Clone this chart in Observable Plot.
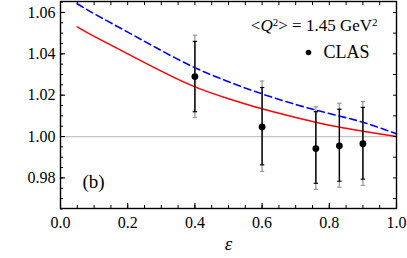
<!DOCTYPE html>
<html>
<head>
<meta charset="utf-8">
<script src="https://cdn.jsdelivr.net/npm/d3@7"></script>
<script src="https://cdn.jsdelivr.net/npm/@observablehq/plot@0.6"></script>
<style>
  html, body { margin: 0; padding: 0; background: #fff; }
  #chart svg { display: block; }
</style>
</head>
<body>
<div id="chart"></div>
<script>
// Theory curves
const curveEps = [0.05, 0.1, 0.2, 0.3, 0.4, 0.5, 0.6, 0.7, 0.8, 0.9, 1.0];
const redValues = [1.0530, 1.0484, 1.0400, 1.0316, 1.0240, 1.0183, 1.0134, 1.0092, 1.0055, 1.0026, 1.0000];
const blueValues = [1.0642, 1.0594, 1.0505, 1.0416, 1.0333, 1.0265, 1.0206, 1.0155, 1.0111, 1.0069, 1.0013];

// CLAS data
const clasEps = [0.40, 0.60, 0.76, 0.83, 0.90];
const clasR = [1.0290, 1.0046, 0.9942, 0.9955, 0.9965];
const statLow = [1.0120, 0.9863, 0.9774, 0.9784, 0.9794];
const statHigh = [1.0460, 1.0237, 1.0120, 1.0132, 1.0141];
const totLow = [1.0092, 0.9831, 0.9744, 0.9755, 0.9764];
const totHigh = [1.0490, 1.0268, 1.0144, 1.0161, 1.0170];

// Axis ticks
const xMajor = [0, 0.2, 0.4, 0.6, 0.8, 1.0];
const xMinor = d3.range(0, 1.0001, 0.05);
const xTop = d3.range(0, 1.0001, 0.05);
const yMajor = [0.98, 1.00, 1.02, 1.04, 1.06];
const yMinor = d3.range(0.965, 1.0651, 0.005);
const yRight = d3.range(0.97, 1.0651, 0.01);

const redData = curveEps.map((e, i) => ({eps: e, v: redValues[i]}));
const blueData = curveEps.map((e, i) => ({eps: e, v: blueValues[i]}));
const clas = clasEps.map((e, i) => ({eps: e, r: clasR[i], sl: statLow[i], sh: statHigh[i], tl: totLow[i], th: totHigh[i]}));

const hbar = {draw(ctx) { ctx.moveTo(-2.2, 0); ctx.lineTo(2.2, 0); }};
const serif = "Liberation Serif, Times New Roman, serif";
const empty = () => "";

const chart = Plot.plot({
  width: 407,
  height: 258,
  marginLeft: 60,
  marginRight: 11,
  marginTop: 1,
  marginBottom: 50,
  style: {fontFamily: serif, fontSize: "16px", color: "#000", background: "#fff"},
  x: {domain: [0, 1]},
  y: {domain: [0.9652, 1.0653]},
  marks: [
    Plot.ruleY([1], {stroke: "#c4c4c4", strokeWidth: 1.2}),
    Plot.line(redData, {x: "eps", y: "v", stroke: "#ff0000", strokeWidth: 1.5, curve: "natural"}),
    Plot.line(blueData, {x: "eps", y: "v", stroke: "#0000ff", strokeWidth: 1.6, strokeDasharray: "7,4", curve: "natural"}),
    // total error bars (gray)
    Plot.ruleX(clas, {x: "eps", y1: "tl", y2: "th", stroke: "#9a9a9a", strokeWidth: 1.3}),
    Plot.dot(clas, {x: "eps", y: "tl", symbol: hbar, stroke: "#9a9a9a", strokeWidth: 1.2}),
    Plot.dot(clas, {x: "eps", y: "th", symbol: hbar, stroke: "#9a9a9a", strokeWidth: 1.2}),
    // statistical error bars (black)
    Plot.ruleX(clas, {x: "eps", y1: "sl", y2: "sh", stroke: "#000", strokeWidth: 1.4}),
    Plot.dot(clas, {x: "eps", y: "sl", symbol: hbar, stroke: "#000", strokeWidth: 1.2}),
    Plot.dot(clas, {x: "eps", y: "sh", symbol: hbar, stroke: "#000", strokeWidth: 1.2}),
    Plot.dot(clas, {x: "eps", y: "r", r: 3.4, fill: "#000", stroke: null}),
    // frame and ticks
    Plot.frame({stroke: "#000", strokeWidth: 1.4}),
    Plot.axisX(xMinor, {anchor: "bottom", tickSize: -3, tickFormat: empty, label: null, strokeWidth: 1}),
    Plot.axisX(xMajor, {anchor: "bottom", tickSize: -5, tickFormat: empty, label: null, strokeWidth: 1.1}),
    Plot.axisX(xTop, {anchor: "top", tickSize: -3, tickFormat: empty, label: null, strokeWidth: 1}),
    Plot.axisX(xMajor, {anchor: "bottom", tickSize: 0, tickPadding: 8, tickFormat: d3.format(".1f"), label: null, fontSize: 16}),
    Plot.axisY(yMinor, {anchor: "left", tickSize: -3, tickFormat: empty, label: null, strokeWidth: 1}),
    Plot.axisY(yMajor, {anchor: "left", tickSize: -5, tickFormat: empty, label: null, strokeWidth: 1.1}),
    Plot.axisY(yRight, {anchor: "right", tickSize: -4, tickFormat: empty, label: null, strokeWidth: 1}),
    Plot.axisY(yMajor, {anchor: "left", tickSize: 0, tickPadding: 5, tickFormat: d3.format(".2f"), label: null, fontSize: 16}),
    // annotations
    Plot.text(["ε"], {frameAnchor: "bottom", dy: 35, lineAnchor: "middle", fontSize: 19, fontStyle: "italic"}),
    Plot.text(["(b)"], {frameAnchor: "bottom-left", dx: 22, dy: -27, lineAnchor: "middle", textAnchor: "start", fontSize: 19}),
    Plot.text(["<Q2> = 1.45 GeV2"], {frameAnchor: "top-right", dx: -19, dy: 24, lineAnchor: "middle", textAnchor: "end", fontSize: 17, className: "qlabel"}),
    Plot.dot([0], {frameAnchor: "top-right", dx: -88, dy: 51, r: 2.8, fill: "#000", stroke: null}),
    Plot.text(["CLAS"], {frameAnchor: "top-right", dx: -73, dy: 51, lineAnchor: "middle", textAnchor: "start", fontSize: 18})
  ]
});

// style the <Q²> label: italic Q and raised exponents
const q = d3.select(chart).select("g.qlabel text");
if (!q.empty()) {
  q.text(null);
  q.append("tspan").text("<");
  q.append("tspan").attr("font-style", "italic").text("Q");
  q.append("tspan").attr("font-size", 11).attr("dy", "-0.45em").text("2");
  q.append("tspan").attr("dy", "0.3em").text("> = 1.45 GeV");
  q.append("tspan").attr("font-size", 11).attr("dy", "-0.45em").text("2");
}

document.getElementById("chart").appendChild(chart);
</script>
</body>
</html>
